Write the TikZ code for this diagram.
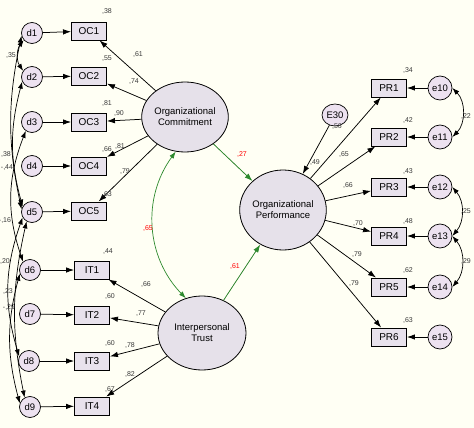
\documentclass[tikz,border=0pt]{standalone}
\usepackage{fontspec}
\setmainfont{Liberation Sans}
\usetikzlibrary{arrows.meta,shapes.geometric}
\definecolor{bg}{HTML}{FFFFF4}
\definecolor{boxfill}{HTML}{E8E2EC}
\definecolor{errfill}{HTML}{EDE2F0}
\definecolor{latfill}{HTML}{E6E1EA}
\definecolor{grn}{HTML}{2E8A2E}
\definecolor{lbl}{HTML}{3A3A3A}
\begin{document}
\begin{tikzpicture}[x=1pt,y=1pt,
  obs/.style={draw, line width=0.9pt, fill=boxfill, minimum width=35pt, minimum height=18pt, inner sep=0pt, font=\fontsize{10}{11}\selectfont},
  err/.style={circle, draw, line width=0.7pt, fill=errfill, minimum size=21pt, inner sep=0pt, font=\fontsize{9.5}{10}\selectfont},
  erre/.style={err, minimum size=24pt},
  lat/.style={ellipse, draw, line width=0.8pt, fill=latfill, inner sep=0pt, align=center, font=\fontsize{9.5}{11}\selectfont},
  lab/.style={font=\fontsize{7}{8}\selectfont, text=lbl, inner sep=0pt},
  rlab/.style={lab, text=red},
  arr/.style={-{Latex[length=8pt,width=5.5pt]}, line width=0.75pt},
  garr/.style={arr, draw=grn, fill=black},
  cov/.style={{Latex[length=7pt,width=5pt]}-{Latex[length=7pt,width=5pt]}, line width=0.7pt},
  gcov/.style={cov, draw=grn}
]
\fill[bg] (0,0) rectangle (474,-428);
\useasboundingbox (0,0) rectangle (474,-428);

% latent variables
\node[lat, minimum width=86pt, minimum height=70pt] (OCm) at (185,-117) {Organizational\\Commitment};
\node[lat, minimum width=86pt, minimum height=80pt] (OP) at (283,-210) {Organizational\\Performance};
\node[lat, minimum width=88pt, minimum height=74pt] (IT) at (202,-333) {Interpersonal\\Trust};
\node[ellipse, draw, line width=0.7pt, fill=errfill, minimum width=26pt, minimum height=22pt, inner sep=0pt, font=\fontsize{9.5}{10}\selectfont] (E30) at (335,-115) {E30};

% OC indicators
\node[obs] (oc1) at (89,-31) {OC1};
\node[obs] (oc2) at (89,-76) {OC2};
\node[obs] (oc3) at (89,-122) {OC3};
\node[obs] (oc4) at (89,-166) {OC4};
\node[obs] (oc5) at (89,-211) {OC5};
% IT indicators
\node[obs] (it1) at (92,-270) {IT1};
\node[obs] (it2) at (92,-315) {IT2};
\node[obs] (it3) at (92,-361) {IT3};
\node[obs] (it4) at (92,-406) {IT4};
% PR indicators
\node[obs] (pr1) at (389,-88) {PR1};
\node[obs] (pr2) at (389,-137) {PR2};
\node[obs] (pr3) at (389,-187) {PR3};
\node[obs] (pr4) at (389,-236) {PR4};
\node[obs] (pr5) at (389,-287) {PR5};
\node[obs] (pr6) at (389,-337) {PR6};

% errors left
\node[err] (d1) at (32,-33) {d1};
\node[err] (d2) at (32,-77) {d2};
\node[err] (d3) at (32,-122) {d3};
\node[err] (d4) at (32,-166) {d4};
\node[err] (d5) at (32,-212) {d5};
\node[err] (d6) at (30,-270) {d6};
\node[err] (d7) at (30,-314) {d7};
\node[err] (d8) at (29,-361) {d8};
\node[err] (d9) at (30,-407) {d9};
% errors right
\node[erre] (e10) at (440,-88) {e10};
\node[erre] (e11) at (440,-137) {e11};
\node[erre] (e12) at (440,-187) {e12};
\node[erre] (e13) at (440,-236) {e13};
\node[erre] (e14) at (440,-287) {e14};
\node[erre] (e15) at (440,-337) {e15};

% error -> indicator
\foreach \d/\o in {d1/oc1,d2/oc2,d3/oc3,d4/oc4,d5/oc5,d6/it1,d7/it2,d8/it3,d9/it4}
  \draw[arr] (\d) -- (\o);
\foreach \e/\p in {e10/pr1,e11/pr2,e12/pr3,e13/pr4,e14/pr5,e15/pr6}
  \draw[arr] (\e) -- (\p);

% loadings
\foreach \o in {oc1,oc2,oc3,oc4,oc5} \draw[arr] (OCm) -- (\o);
\foreach \o in {it1,it2,it3,it4} \draw[arr] (IT) -- (\o);
\foreach \o in {pr1,pr2,pr3,pr4,pr5,pr6} \draw[arr] (OP) -- (\o);
\draw[arr] (E30) -- (OP);

% structural
\draw[garr] (OCm) -- (OP);
\draw[garr] (IT) -- (OP);
\draw[gcov] (OCm.255) to[bend right=40] (IT.115);

% left covariances
\draw[cov] (d1.220) to[bend right=35] (d2.145);
\draw[cov] (d1.195) to[bend right=12] (d5.165);
\draw[cov] (d2.205) to[bend right=15] (d5.150);
\draw[cov] (d3.235) to[bend right=20] (d6.130);
\draw[cov] (d5.210) to[bend right=18] (d8.155);
\draw[cov] (d6.200) to[bend right=15] (d9.160);
\draw[cov] (d5.240) to[bend right=12] (d9.120);

% right covariances
\draw[cov] (e10.east) to[bend left=45] (e11.east);
\draw[cov] (e12.east) to[bend left=40] (e13.east);
\draw[cov] (e13.east) to[bend left=40] (e14.east);

% R2 labels
\node[lab] (r1) at (107,-12) {,38};
\node[lab] (r2) at (107,-59) {,55};
\node[lab] (r3) at (107,-104) {,81};
\node[lab] (r4) at (107,-150) {,66};
\node[lab] (r5) at (107,-195) {,63};
\node[lab] (r6) at (108,-252) {,44};
\node[lab] (r7) at (110,-297) {,60};
\node[lab] (r8) at (110,-344) {,60};
\node[lab] (r9) at (110,-390) {,67};
\node[lab] (r10) at (408,-71) {,34};
\node[lab] (r11) at (408,-121) {,42};
\node[lab] (r12) at (408,-172) {,43};
\node[lab] (r13) at (408,-222) {,48};
\node[lab] (r14) at (408,-271) {,62};
\node[lab] (r15) at (408,-321) {,63};
\node[lab] (r16) at (315,-163) {,49};

% loading labels
\node[lab] (l1) at (138,-55) {,61};
\node[lab] (l2) at (134,-82) {,74};
\node[lab] (l3) at (119,-114) {,90};
\node[lab] (l4) at (120,-147) {,81};
\node[lab] (l5) at (125,-172) {,79};
\node[lab] (l6) at (146,-285) {,66};
\node[lab] (l7) at (141,-314) {,77};
\node[lab] (l8) at (130,-346) {,78};
\node[lab] (l9) at (130,-375) {,82};
\node[lab] (l10) at (337,-127) {,56};
\node[lab] (l11) at (344,-155) {,65};
\node[lab] (l12) at (348,-186) {,66};
\node[lab] (l13) at (358,-224) {,70};
\node[lab] (l14) at (357,-255) {,79};
\node[lab] (l15) at (354,-284) {,79};

% structural labels
\node[rlab] (s1) at (242,-155) {,27};
\node[rlab] (s2) at (148,-229) {,65};
\node[rlab] (s3) at (235,-267) {,61};

% covariance labels
\node[lab] (c1) at (11,-56) {,35};
\node[lab] (c2) at (6,-155) {,38};
\node[lab] (c3) at (7,-168) {-,44};
\node[lab] (c4) at (5,-221) {-,16};
\node[lab] (c5) at (5,-262) {,20};
\node[lab] (c6) at (8,-292) {,23};
\node[lab] (c7) at (9,-308) {-,29};
\node[lab] (c8) at (466,-117) {,22};
\node[lab] (c9) at (466,-212) {,25};
\node[lab] (c10) at (466,-262) {,29};
\end{tikzpicture}
\end{document}
